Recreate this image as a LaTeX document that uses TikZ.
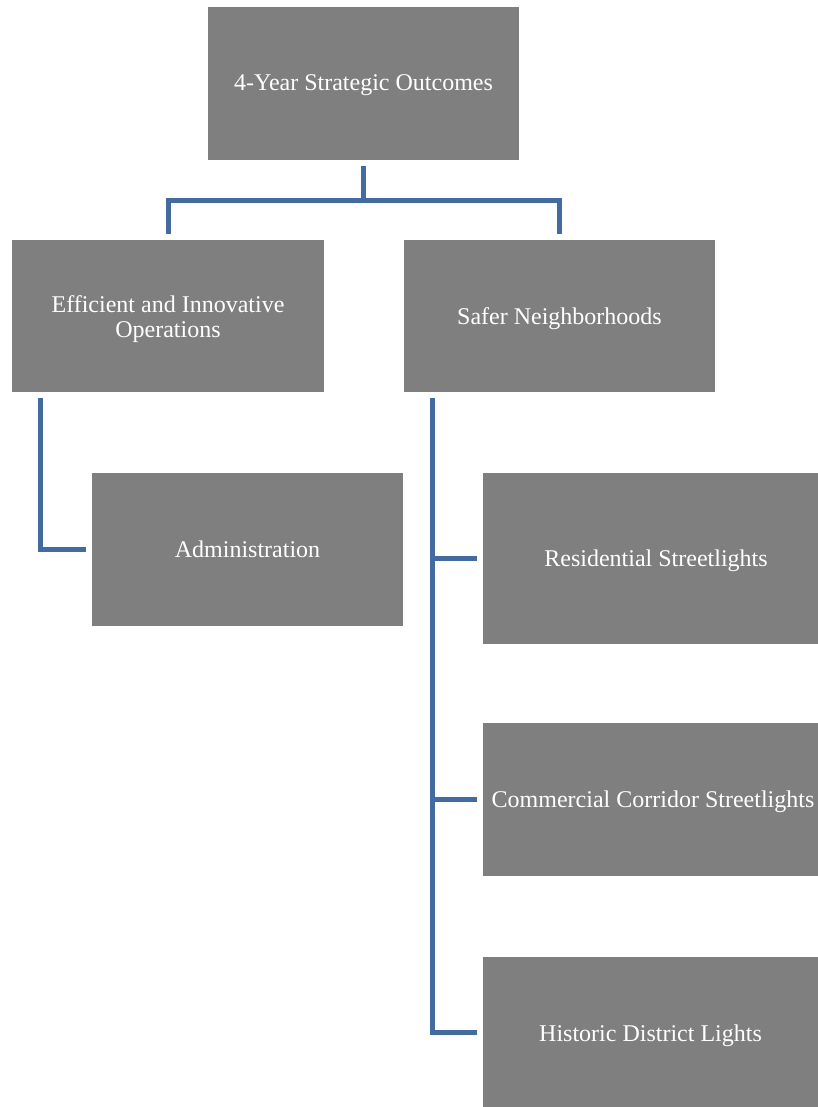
\documentclass[tikz,border=0pt]{standalone}
\usepackage{fontspec}
\setmainfont{Liberation Serif}
\usetikzlibrary{calc}
\definecolor{boxgray}{HTML}{7F7F7F}
\definecolor{connblue}{HTML}{446BA0}
\begin{document}
\begin{tikzpicture}[x=1pt,y=-1pt,
  box/.style={fill=boxgray, draw=none, inner sep=0pt},
  lbl/.style={text=white, align=center, inner sep=0pt, anchor=base,
    font=\fontsize{24}{25}\selectfont},
  conn/.style={draw=connblue, line width=5pt, line cap=butt, line join=miter}]
\useasboundingbox (0,0) rectangle (818,1107);
\node[box, minimum width=311pt, minimum height=153pt] (top) at (363.5,83.5) {};
\node[box, minimum width=312pt, minimum height=152pt] (eff) at (168,316) {};
\node[box, minimum width=311pt, minimum height=152pt] (safer) at (559.5,316) {};
\node[box, minimum width=311pt, minimum height=153pt] (admin) at (247.5,549.5) {};
\node[box, minimum width=335pt, minimum height=171pt] (res) at (650.5,558.5) {};
\node[box, minimum width=335pt, minimum height=153pt] (com) at (650.5,799.5) {};
\node[box, minimum width=335pt, minimum height=150pt] (hist) at (650.5,1032) {};
% labels
\node[lbl] (topT) at ($(top.center)+(0,7.5)$) {4-Year Strategic Outcomes};
\node[lbl] (effT) at ($(eff.center)+(0,21)$) {Efficient and Innovative\\Operations};
\node[lbl] (saferT) at ($(safer.center)+(0,8)$) {Safer Neighborhoods};
\node[lbl] (adminT) at ($(admin.center)+(0,7.5)$) {Administration};
\node[lbl] (resT) at ($(res.center)+(5.5,7.5)$) {Residential Streetlights};
\node[lbl] (comT) at ($(com.center)+(2.5,7.5)$) {Commercial Corridor Streetlights};
\node[lbl] (histT) at ($(hist.center)+(0,9)$) {Historic District Lights};
% top connectors
\draw[conn] ($(top.south)+(0,6)$) -- ++(0,34) coordinate (jn);
\draw[conn] ($(eff.north)+(0,-6)$) |- (jn) -| ($(safer.north)+(0,-6)$);
% left
\draw[conn] ($(eff.south west)+(29,6)$) |- ($(admin.west)+(-6,0)$);
% right
\coordinate (trunk) at ($(safer.south west)+(29,6)$);
\draw[conn] (trunk) |- ($(hist.west)+(-6,0)$);
\draw[conn] ($(res.west)+(-6,0)$) -- (res.west -| trunk);
\draw[conn] ($(com.west)+(-6,0)$) -- (com.west -| trunk);
\end{tikzpicture}
\end{document}
